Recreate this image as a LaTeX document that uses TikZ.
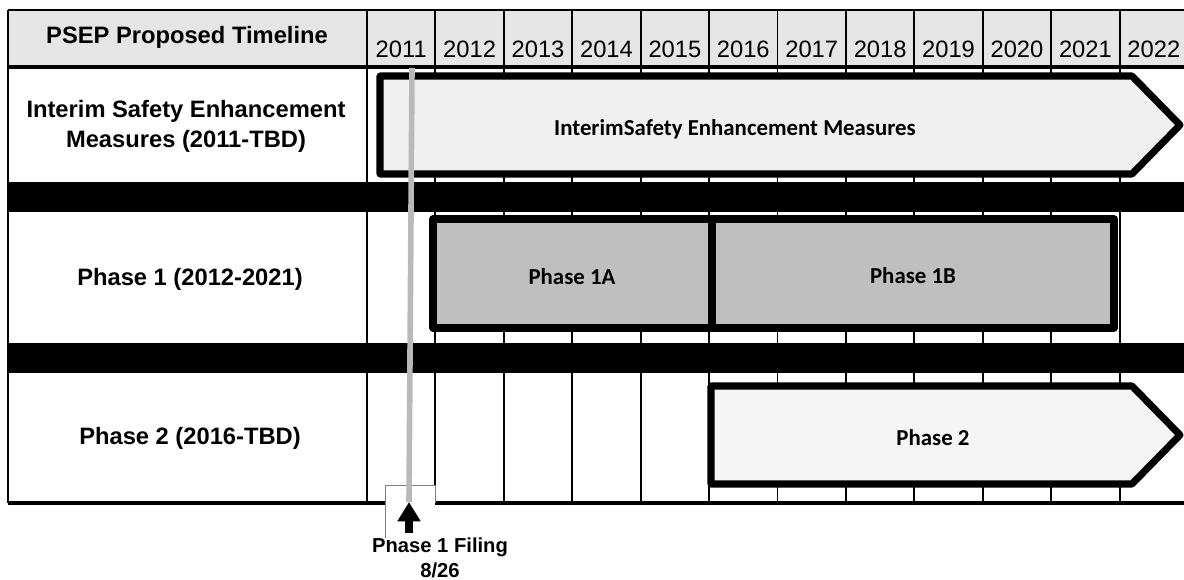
\documentclass[tikz,border=0pt]{standalone}
\usepackage{fontspec}
\setmainfont{Liberation Sans}
\newfontfamily\calibri{Carlito}
\usetikzlibrary{shapes,arrows.meta,positioning,fit,calc}

\begin{document}
\begin{tikzpicture}[x=0.02cm, y=-0.02cm,
    rowlabel/.style={font=\fontsize{13.5}{17}\selectfont\bfseries, align=center},
    yearlabel/.style={font=\fontsize{13.5}{16}\selectfont, inner sep=0pt, anchor=base},
    barlabel/.style={font=\calibri\fontsize{13}{15}\selectfont\bfseries},
    barline/.style={line width=4pt, line join=round},
    gridline/.style={line width=1.1pt},
    markline/.style={line width=3.2pt, gray!55},
    filingarrow/.style={line width=4pt, -{Triangle[width=12.5pt, length=11pt]}}]
\useasboundingbox (0,0) rectangle (1184,580);

\fill[gray!20] (8,10) rectangle (1184,67);
\draw[gridline] (8,10) -- (1184,10);
\draw[gridline] (8,10) -- (8,503);
\draw[gridline] (367,10) -- (367,503);
\foreach \i in {1,...,11}
    \draw[gridline] ({367+68.42*\i},10) -- ({367+68.42*\i},503);
\draw[line width=1.8pt] (8,67) -- (1184,67);
\draw[line width=1.8pt] (8,503) -- (1184,503);
\fill (8,182) rectangle (1184,212);
\fill (8,343) rectangle (1184,373);

\node[rowlabel] (title) at (187,37) {PSEP Proposed Timeline};
\foreach \yr [count=\i from 0] in {2011,...,2022}
    \node[yearlabel] (y\yr) at ({367+68.42*\i+34.2},58) {\yr};

\node[rowlabel] (interimrow) at (186,126) {Interim Safety Enhancement\\Measures (2011-TBD)};
\node[rowlabel] (phaseonerow) at (190,279) {Phase 1 (2012-2021)};
\node[rowlabel] (phasetworow) at (190,438) {Phase 2 (2016-TBD)};

\draw[barline, fill=gray!12] (380,76) -- (1132,76) -- (1180,125) -- (1132,174) -- (380,174) -- cycle;
\node[barlabel] (interim) at (735,129) {InterimSafety Enhancement Measures};

\draw[barline, fill=gray!50] (433,219) rectangle (712,328);
\draw[barline, fill=gray!50] (712,219) rectangle (1114,328);
\node[barlabel] (phaseonea) at (572,277) {Phase 1A};
\node[barlabel] (phaseoneb) at (913,276) {Phase 1B};

\draw[barline, fill=gray!8] (711,386) -- (1132,386) -- (1180,435) -- (1132,484) -- (711,484) -- cycle;
\node[barlabel] (phasetwo) at (933,438) {Phase 2};

\node[font=\fontsize{11.5}{14}\selectfont\bfseries, align=center] (filing) at (440,558) {Phase 1 Filing\\8/26};
\fill[white] (385,485) rectangle (435,540);
\draw[gray, line width=0.5pt] (385,538) -- (385,485) -- (435,485) -- (435,503);

\coordinate (marktop) at (412,68);
\coordinate (filingtip) at (409,502);
\coordinate (filingbase) at (409,533);
\draw[markline] (marktop) -- (filingtip);
\draw[filingarrow] (filingbase) -- (filingtip);
\end{tikzpicture}
\end{document}
